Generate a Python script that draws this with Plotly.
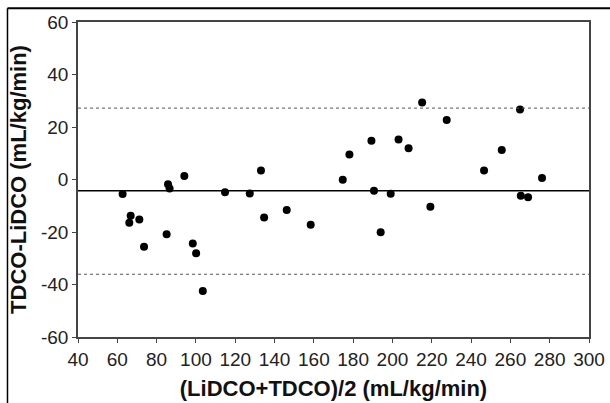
import plotly.graph_objects as go

# Moyenne (LiDCO+TDCO)/2 et différence TDCO-LiDCO
moyenne = [62.7, 85.8, 86.6, 94.1, 114.8, 127.4, 133.1,
           66.8, 66.1, 71.2, 73.6, 85.1, 98.4, 100.1, 103.5, 134.7, 146.2, 158.4,
           174.7, 178.1, 189.3, 190.6, 199.1, 203.1, 208.2, 215.1, 227.6, 246.6,
           255.6, 264.9, 265.3, 269.0, 276.1, 194.0, 219.3]
difference = [-5.5, -1.8, -3.4, 1.3, -4.9, -5.3, 3.4,
              -13.8, -16.5, -15.2, -25.6, -20.9, -24.4, -28.1, -42.5, -14.5, -11.6, -17.2,
              -0.1, 9.5, 14.8, -4.3, -5.4, 15.2, 11.9, 29.3, 22.7, 3.4,
              11.2, 26.7, -6.2, -6.8, 0.6, -20.1, -10.4]

biais = -4.3
limite_haute = 27.2
limite_basse = -36.1

ticks_x = list(range(40, 301, 20))
ticks_y = list(range(-60, 61, 20))

fig = go.Figure()

fig.add_trace(go.Scatter(x=moyenne, y=difference, mode="markers",
                         marker=dict(color="black", size=8), showlegend=False))

# Biais et limites d'agrément
fig.add_shape(type="line", x0=40, x1=300, y0=biais, y1=biais,
              line=dict(color="black", width=1.5))
for lim in [limite_haute, limite_basse]:
    fig.add_shape(type="line", x0=40, x1=300, y0=lim, y1=lim,
                  line=dict(color="#555555", width=1, dash="dot"))

# Cadre de la figure
fig.add_shape(type="line", xref="paper", yref="paper", x0=-0.138, x1=1.06, y0=1.044, y1=1.044,
              line=dict(color="black", width=2))
fig.add_shape(type="line", xref="paper", yref="paper", x0=-0.138, x1=-0.138, y0=1.044, y1=-0.22,
              line=dict(color="black", width=1.5))

police = "Liberation Sans, Arial"
axe = dict(showgrid=False, zeroline=False, showline=True, linecolor="#444444", linewidth=1.5,
           mirror=True, ticks="outside", ticklen=4, tickcolor="#444444", automargin=False,
           tickfont=dict(family=police, size=19, color="#222222"))

fig.update_xaxes(range=[40, 300], tickvals=ticks_x, ticktext=[str(v) for v in ticks_x],
                 title=dict(text="<b>(LiDCO+TDCO)/2 (mL/kg/min)</b>", standoff=12,
                            font=dict(family=police, size=22, color="#111111")),
                 **axe)
fig.update_yaxes(range=[-60, 60], tickvals=ticks_y, ticktext=[str(v) for v in ticks_y],
                 title=dict(text="<b>TDCO-LiDCO (mL/kg/min)</b>", standoff=8,
                            font=dict(family=police, size=22, color="#111111")),
                 **axe)

fig.update_layout(width=610, height=403, margin=dict(l=78, r=21, t=22, b=66),
                  plot_bgcolor="white", paper_bgcolor="white")

fig.write_html("out.html", config={"displayModeBar": False},
               post_script="document.body.style.margin='0';")
